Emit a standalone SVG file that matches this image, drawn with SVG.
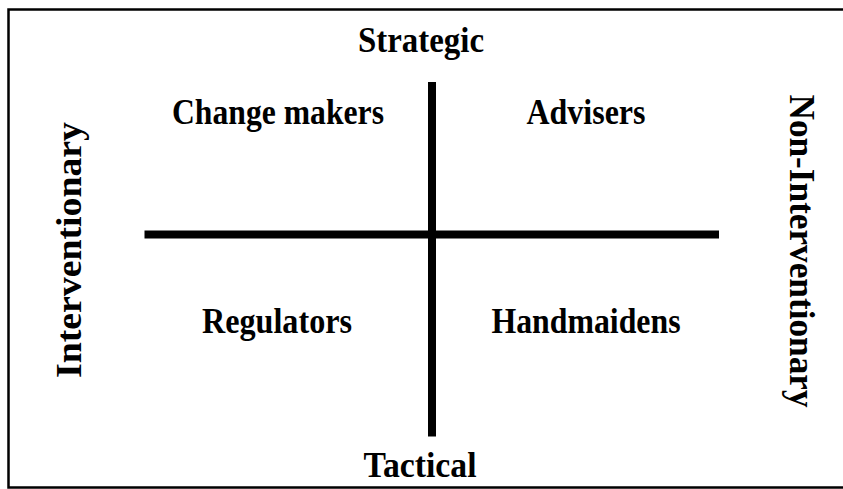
<svg xmlns="http://www.w3.org/2000/svg" width="843" height="489" viewBox="0 0 843 489">
<style>
.t{font-family:"Liberation Serif","Times New Roman",serif;font-weight:bold;font-size:35px;fill:#000;text-anchor:middle}
.ax{stroke:#000;stroke-width:8;fill:none}
</style>
<rect width="843" height="489" fill="#fff"/>
<path d="M843 9.5 H8.5 V487.5 H843" fill="none" stroke="#000" stroke-width="2.5"/>
<g id="connectors">
<line class="ax" x1="432" y1="82" x2="432" y2="436.5"/>
<line class="ax" x1="144.5" y1="234.5" x2="719" y2="234.5"/>
</g>
<g id="strategic"><text class="t" x="421" y="52" textLength="126" lengthAdjust="spacingAndGlyphs">Strategic</text></g>
<g id="tactical"><text class="t" x="420" y="477" textLength="113" lengthAdjust="spacingAndGlyphs">Tactical</text></g>
<g id="change-makers"><text class="t" x="278" y="124" textLength="212" lengthAdjust="spacingAndGlyphs">Change makers</text></g>
<g id="advisers"><text class="t" x="586" y="124" textLength="119" lengthAdjust="spacingAndGlyphs">Advisers</text></g>
<g id="regulators"><text class="t" x="277" y="333" textLength="150" lengthAdjust="spacingAndGlyphs">Regulators</text></g>
<g id="handmaidens"><text class="t" x="586" y="333" textLength="189" lengthAdjust="spacingAndGlyphs">Handmaidens</text></g>
<g id="interventionary"><text class="t" transform="translate(81 250) rotate(-90)" x="0" y="0" textLength="256" lengthAdjust="spacingAndGlyphs">Interventionary</text></g>
<g id="non-interventionary"><text class="t" transform="translate(790 251) rotate(90)" x="0" y="0" textLength="313" lengthAdjust="spacingAndGlyphs">Non-Interventionary</text></g>
</svg>
